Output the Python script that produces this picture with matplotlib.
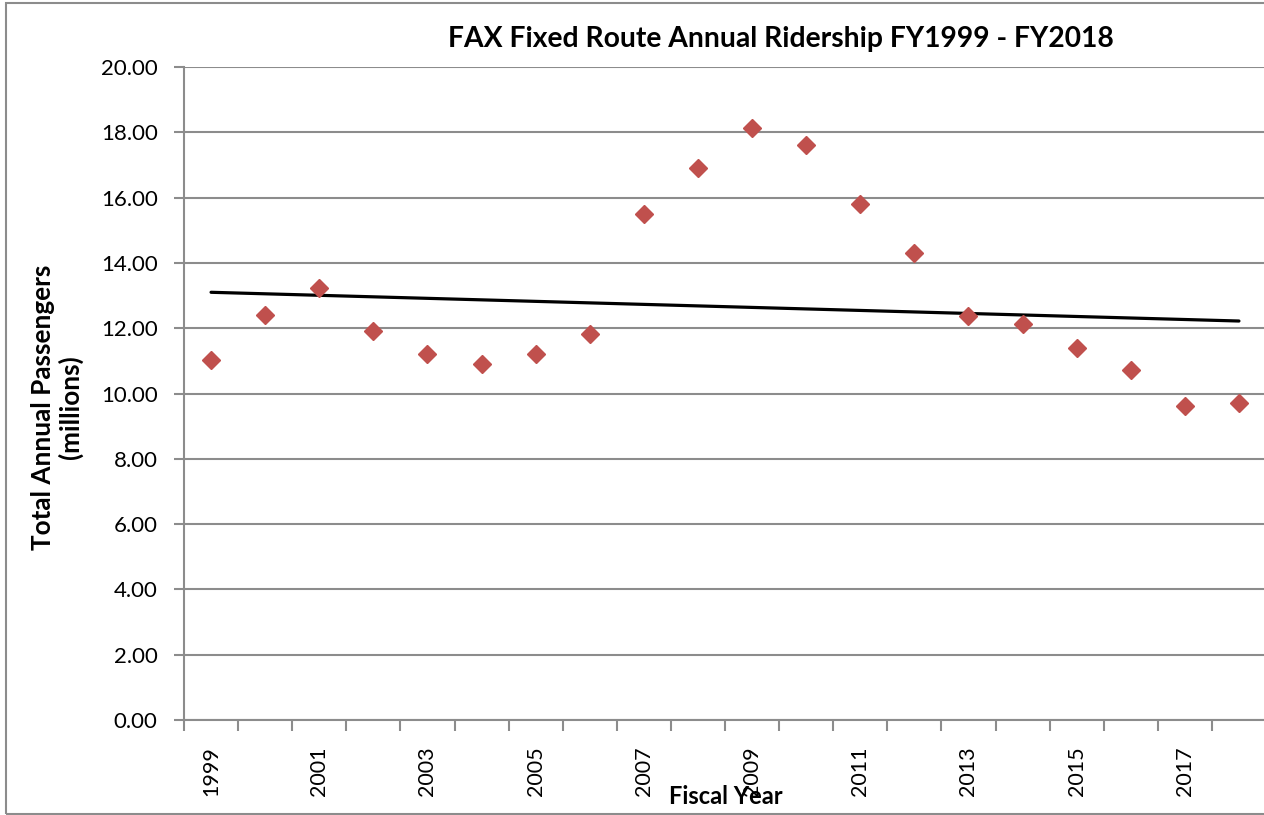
import matplotlib
matplotlib.use("Agg")
import matplotlib.pyplot as plt
from matplotlib.patches import Rectangle
from matplotlib.ticker import MultipleLocator, FixedLocator, NullFormatter

plt.rcParams['font.family'] = ['Lato', 'DejaVu Sans']

years = list(range(1999, 2019))
riders = [11.03, 12.40, 13.22, 11.91, 11.21, 10.90, 11.21, 11.81, 15.51, 16.91,
          18.12, 17.61, 15.80, 14.31, 12.37, 12.13, 11.40, 10.71, 9.61, 9.71]
trend_years = [1999, 2018]
trend_values = [13.10, 12.22]

title = "FAX Fixed Route Annual Ridership FY1999 - FY2018"
xlabel = "Fiscal Year"
ylabel = "Total Annual Passengers\n(millions)"

W, H = 1264, 815
fig = plt.figure(figsize=(W / 100, H / 100), dpi=100)

# outer chart border
fig.patches.append(Rectangle((6 / W, 1 - 814 / H), 1.2, (814 - 3) / H,
                             transform=fig.transFigure, fill=False,
                             edgecolor='#8c8c8c', linewidth=1.5))

left, right, top, bottom = 184, 1266, 67, 720
ax = fig.add_axes([left / W, 1 - bottom / H, (right - left) / W, (bottom - top) / H])

pos = [y - years[0] for y in years]
tpos = [y - years[0] for y in trend_years]

ax.plot(tpos, trend_values, color='black', linewidth=2.3, solid_capstyle='round', zorder=3)
ax.plot(pos, riders, linestyle='none', marker='D', markersize=9.5,
        color='#C0504D', markeredgecolor='#C0504D', zorder=4)

ax.set_xlim(-0.5, len(years) - 0.5)
ax.set_ylim(0, 20)
ax.yaxis.set_major_locator(MultipleLocator(2))
ax.set_yticklabels([f"{v:.2f}" for v in ax.get_yticks()])
ax.grid(axis='y', color='#8c8c8c', linewidth=1.5)
ax.set_axisbelow(True)

ax.set_xticks(pos[::2])
ax.set_xticklabels([str(y) for y in years[::2]], rotation=90, fontsize=15.5)
ax.xaxis.set_minor_locator(FixedLocator([p - 0.5 for p in pos] + [pos[-1] + 0.5]))
ax.xaxis.set_minor_formatter(NullFormatter())
ax.tick_params(axis='x', which='major', length=0, pad=19)
ax.tick_params(axis='x', which='minor', length=8, width=1.5, color='#8c8c8c')
ax.tick_params(axis='y', length=7, width=1.5, color='#8c8c8c', labelsize=16, pad=12)

for s in ['top', 'right']:
    ax.spines[s].set_visible(False)
for s in ['left', 'bottom']:
    ax.spines[s].set_color('#8c8c8c')
    ax.spines[s].set_linewidth(1.5)

fig.text(781 / W, 1 - 39 / H, title, ha='center', va='center',
         fontsize=20.3, fontweight='bold')
fig.text(726 / W, 1 - 797 / H, xlabel, ha='center', va='center',
         fontsize=17, fontweight='bold')
fig.text(57 / W, 1 - 407 / H, ylabel, ha='center', va='center', rotation=90,
         fontsize=18.8, fontweight='bold', linespacing=1.12, multialignment='center')

fig.savefig("out.png", dpi=100)
